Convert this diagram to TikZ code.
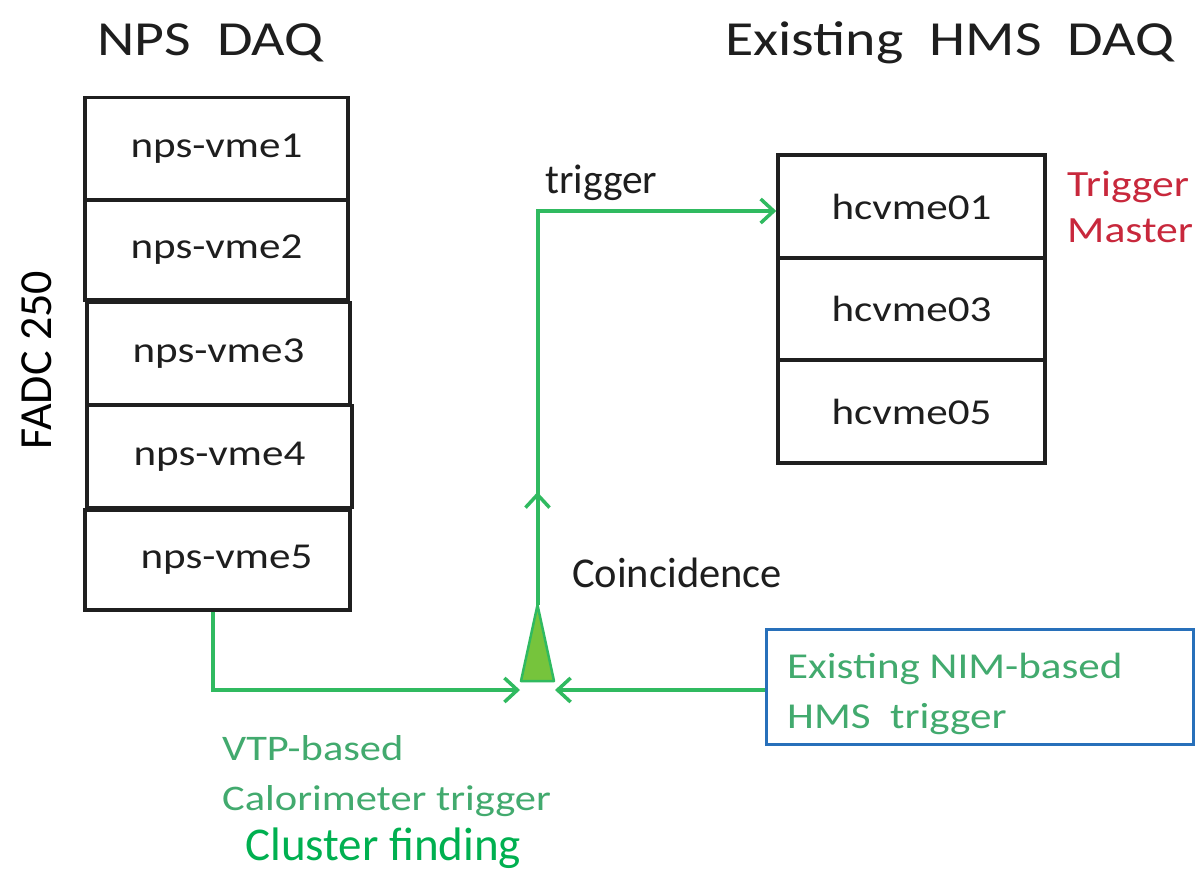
\documentclass[tikz,border=0pt]{standalone}
\usepackage{fontspec}
\setmainfont{Carlito}
\newfontfamily\wfont[FakeStretch=1.18]{Carlito}
\usetikzlibrary{arrows.meta}
\definecolor{gline}{RGB}{48,186,96}
\definecolor{gtext}{RGB}{66,170,110}
\definecolor{gbright}{RGB}{0,176,80}
\definecolor{rtext}{RGB}{200,40,60}
\definecolor{bbox}{RGB}{40,112,186}
\definecolor{tfill}{RGB}{118,196,60}
\definecolor{dtext}{RGB}{30,30,30}
\tikzset{
  x=1pt, y=-1pt,
  unitbox/.style={draw=black!88, line width=3.5pt, minimum width=263pt, minimum height=102pt,
    inner sep=0pt, text=dtext, font=\wfont\fontsize{36.5}{40}\selectfont},
  hmsbox/.style={unitbox, minimum width=267pt},
  gpath/.style={draw=gline, line width=4pt},
  garrow/.style={gpath, -{Straight Barb[length=13pt,width=24pt,line width=3.5pt]}},
  lbl/.style={inner sep=0pt, anchor=base west},
}
\begin{document}
\begin{tikzpicture}
\useasboundingbox (0,0) rectangle (1196,873);
\fill[white] (0,0) rectangle (1196,873);
% titles
\node[lbl, text=dtext, font=\wfont\fontsize{49}{55}\selectfont] (t1) at (97,55) {NPS\ \ DAQ};
\node[lbl, text=dtext, font=\wfont\fontsize{49}{55}\selectfont] (t2) at (725,55) {Existing\ \ HMS\ \ DAQ};
\node[inner sep=0pt, rotate=90, font=\fontsize{46}{50}\selectfont] (fadc) at (37,360) {FADC 250};
% NPS crates
\node[unitbox] (n1) at (216.5,148.5) {nps-vme1};
\node[unitbox, minimum height=100pt] (n2) at (216.5,250) {nps-vme2};
\node[unitbox] (n3) at (218.5,353.5) {nps-vme3};
\node[unitbox, minimum width=265pt] (n4) at (219.5,456.5) {nps-vme4};
\node[unitbox, minimum width=265pt, minimum height=100pt] (n5) at (217.5,560) {\hspace*{18pt}nps-vme5};
% HMS crates
\node[hmsbox, minimum height=103pt] (h1) at (911.5,206.5) {hcvme01};
\node[hmsbox] (h2) at (911.5,309) {hcvme03};
\node[hmsbox, minimum height=103pt] (h3) at (911.5,411.5) {hcvme05};
\node[lbl, text=rtext, font=\wfont\fontsize{37}{40}\selectfont] (tm1) at (1067,196) {Trigger};
\node[lbl, text=rtext, font=\wfont\fontsize{37}{40}\selectfont] (tm2) at (1067,242) {Master};
% HMS trigger box
\node[draw=bbox, line width=3pt, minimum width=427pt, minimum height=115pt, inner sep=0pt] (nim) at (979.5,686.5) {};
\node[lbl, text=gtext, font=\wfont\fontsize{36.5}{40}\selectfont] (nim1) at (787,678) {Existing NIM-based};
\node[lbl, text=gtext, font=\wfont\fontsize{36.5}{40}\selectfont] (nim2) at (787,728) {HMS\ \ trigger};
% coincidence
\coordinate (apex) at (537.5,605);
\coordinate (bl) at (521,681);
\coordinate (br) at (554,681);
\coordinate (inL) at (520,690);
\coordinate (inR) at (555,690);
\coordinate (corner) at (213,690);
\draw[draw=gline, line width=2.5pt, fill=tfill, line join=round] (bl) -- (apex) -- (br) -- cycle;
\node[lbl, text=dtext, font=\fontsize{42.5}{46}\selectfont] (coin) at (572,587) {Coincidence};
\node[lbl, text=dtext, font=\fontsize{41.5}{46}\selectfont] (trg) at (545,193) {trigger};
% connectors
\draw[garrow] ([xshift=-4.5pt]n5.south) -- (corner) -- (inL);
\draw[garrow] (nim.west |- inR) -- (inR);
\draw[garrow] (apex) -- ++(0,-113);
\draw[garrow] (apex) |- ([yshift=-4.5pt]h1.west);
% VTP labels
\node[lbl, text=gtext, font=\wfont\fontsize{36}{40}\selectfont] (vtp1) at (222,760) {VTP-based};
\node[lbl, text=gtext, font=\wfont\fontsize{36}{40}\selectfont] (vtp2) at (222,810) {Calorimeter trigger};
\node[lbl, text=gbright, font=\fontsize{47}{50}\selectfont] (clus) at (245,860) {Cluster finding};
\end{tikzpicture}
\end{document}
